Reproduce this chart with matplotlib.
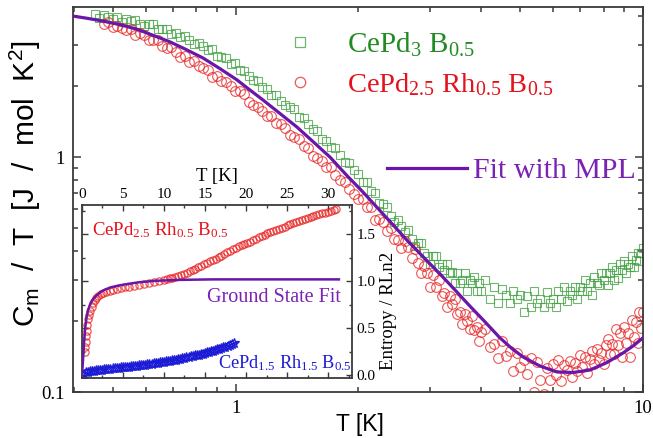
import numpy as np
import matplotlib
matplotlib.use("Agg")
import matplotlib.pyplot as plt
from matplotlib.ticker import NullFormatter, MultipleLocator, FormatStrFormatter

plt.rcParams['mathtext.default'] = 'regular'
SERIF = 'Liberation Serif'
SANS = 'Liberation Sans'

# colours
GREEN_TXT = '#228b22'
GREEN_MK = (0.25, 0.62, 0.25, 0.75)
RED_TXT = '#e3121c'
RED_MK = (0.90, 0.12, 0.12, 0.75)
PURPLE = '#6a16a8'
PURPLE_TXT = '#7a22b4'
BLUE = '#1c1cd6'
SPINE = '#3a3a3a'

# ---- C_m/T data, low temperature part (dense) ----
t_low = [0.450, 0.462, 0.474, 0.486, 0.498, 0.511, 0.524, 0.537, 0.551, 0.565,
         0.580, 0.595, 0.610, 0.626, 0.642, 0.659, 0.676, 0.694, 0.712, 0.730,
         0.749, 0.769, 0.789, 0.810, 0.831, 0.853, 0.875, 0.898, 0.921, 0.945,
         0.970, 0.995, 1.021, 1.048, 1.075, 1.103, 1.132, 1.162, 1.192, 1.223,
         1.255, 1.288, 1.322, 1.357, 1.392, 1.428, 1.466, 1.504, 1.543, 1.584,
         1.625, 1.668, 1.711, 1.756, 1.802, 1.849, 1.898, 1.947]

cm_pd3_low = [4.05, 3.91, 4.04, 3.93, 3.86, 3.95, 3.77, 3.86, 3.79, 3.83,
              3.68, 3.62, 3.70, 3.68, 3.51, 3.50, 3.52, 3.33, 3.38, 3.25,
              3.28, 3.155, 3.03, 3.05, 2.98, 2.85, 2.87, 2.69, 2.67, 2.63,
              2.50, 2.51, 2.35, 2.33, 2.22, 2.12, 2.11, 1.98, 1.95, 1.83,
              1.84, 1.74, 1.66, 1.64, 1.60, 1.475, 1.46, 1.385, 1.31, 1.295,
              1.19, 1.175, 1.10, 1.09, 1.024, 0.955, 0.94, 0.88]

# Rh-doped sample starts at the third temperature point
cm_rh_low = [3.68, 3.75, 3.56, 3.62, 3.54, 3.46, 3.51, 3.32,
             3.37, 3.31, 3.15, 3.15, 3.15, 2.98, 2.91, 2.93, 2.80, 2.67,
             2.68, 2.55, 2.56, 2.43, 2.39, 2.34, 2.20, 2.22, 2.10, 2.08,
             2.00, 1.91, 1.91, 1.85, 1.72, 1.66, 1.64, 1.568, 1.49, 1.495,
             1.40, 1.38, 1.33, 1.24, 1.216, 1.19, 1.115, 1.09, 1.015, 0.993,
             0.96, 0.91, 0.905, 0.84, 0.80, 0.785, 0.734, 0.695]

# ---- C_m/T data, high temperature part (noisy) ----
t_high = [2.00, 2.05, 2.10, 2.15, 2.20, 2.25, 2.30, 2.35, 2.40, 2.45,
          2.50, 2.55, 2.60, 2.65, 2.70, 2.75, 2.80, 2.85, 2.90, 2.95,
          3.00, 3.05, 3.10, 3.15, 3.20, 3.25, 3.30, 3.35, 3.40, 3.45,
          3.50, 3.55, 3.60, 3.65, 3.70, 3.75, 3.80, 3.85, 3.90, 3.95,
          4.00, 4.1, 4.2, 4.3, 4.4, 4.5, 4.6, 4.7, 4.8, 4.9,
          5.0, 5.1, 5.2, 5.3, 5.4, 5.5, 5.6, 5.7, 5.8, 5.9,
          6.0, 6.1, 6.2, 6.3, 6.4, 6.5, 6.6, 6.7, 6.8, 6.9,
          7.0, 7.1, 7.2, 7.3, 7.4, 7.5, 7.6, 7.7, 7.8, 7.9,
          8.0, 8.1, 8.2, 8.3, 8.4, 8.5, 8.6, 8.7, 8.8, 8.9,
          9.0, 9.1, 9.2, 9.3, 9.4, 9.5, 9.6, 9.7, 9.8, 9.9, 10.0]

cm_pd3_high = [0.85, 0.78, 0.78, 0.72, 0.70, 0.64, 0.63, 0.61, 0.56, 0.53,
               0.54, 0.51, 0.48, 0.49, 0.45, 0.42, 0.43, 0.43, 0.39, 0.38,
               0.35, 0.38, 0.38, 0.34, 0.35, 0.33, 0.35, 0.32, 0.325, 0.29,
               0.32, 0.29, 0.30, 0.32, 0.27, 0.30, 0.29, 0.31, 0.27, 0.29,
               0.27, 0.30, 0.25, 0.28, 0.24, 0.275, 0.26, 0.24, 0.27, 0.25,
               0.26, 0.22, 0.255, 0.23, 0.27, 0.24, 0.25, 0.23, 0.266, 0.24,
               0.25, 0.23, 0.27, 0.25, 0.28, 0.245, 0.27, 0.26, 0.28, 0.25,
               0.28, 0.27, 0.30, 0.27, 0.29, 0.26, 0.31, 0.29, 0.285, 0.32,
               0.30, 0.32, 0.285, 0.32, 0.34, 0.30, 0.33, 0.305, 0.35, 0.33,
               0.36, 0.32, 0.35, 0.34, 0.38, 0.34, 0.365, 0.39, 0.36, 0.39, 0.41]

cm_rh_high = [0.66, 0.665, 0.61, 0.61, 0.54, 0.545, 0.53, 0.485, 0.50, 0.45,
              0.445, 0.41, 0.44, 0.415, 0.37, 0.405, 0.355, 0.32, 0.345, 0.32,
              0.28, 0.315, 0.28, 0.30, 0.255, 0.265, 0.23, 0.255, 0.236, 0.25,
              0.215, 0.22, 0.195, 0.215, 0.20, 0.185, 0.21, 0.183, 0.19, 0.165,
              0.18, 0.185, 0.155, 0.16, 0.14, 0.165, 0.142, 0.150, 0.123, 0.147,
              0.128, 0.137, 0.119, 0.140, 0.100, 0.134, 0.112, 0.098, 0.126, 0.113,
              0.132, 0.118, 0.137, 0.111, 0.130, 0.124, 0.135, 0.116, 0.133, 0.123,
              0.144, 0.128, 0.141, 0.120, 0.138, 0.149, 0.131, 0.153, 0.137, 0.147,
              0.132, 0.159, 0.168, 0.145, 0.160, 0.145, 0.186, 0.158, 0.178, 0.141,
              0.189, 0.162, 0.178, 0.141, 0.202, 0.172, 0.199, 0.162, 0.218, 0.188, 0.219]

# ---- MPL fit ----
t_fit = [0.398, 0.433, 0.471, 0.519, 0.571, 0.625, 0.689, 0.754, 0.830, 0.913,
         1.006, 1.082, 1.165, 1.283, 1.412, 1.546, 1.702, 1.864, 2.051, 2.323,
         2.631, 2.880, 3.171, 3.452, 3.757, 4.090, 4.452, 4.766, 5.073, 5.584,
         6.148, 6.730, 7.408, 8.155, 8.932, 9.450, 10.0]
cm_fit = [3.98, 3.89, 3.79, 3.66, 3.50, 3.30, 3.09, 2.87, 2.64, 2.38,
          2.13, 1.93, 1.75, 1.532, 1.342, 1.164, 1.00, 0.842, 0.710, 0.561,
          0.443, 0.377, 0.318, 0.272, 0.232, 0.199, 0.170, 0.153, 0.141, 0.129,
          0.1217, 0.1211, 0.124, 0.1335, 0.1466, 0.157, 0.170]

# ---- entropy (inset) ----
t_s_rh05 = [0.40, 0.45, 0.50, 0.55, 0.60, 0.7, 0.8, 0.9, 1.0, 1.2,
            1.4, 1.6, 1.8, 2.0, 2.3, 2.6, 3.0, 3.4, 3.8, 4.3,
            4.8, 5.3, 5.8, 6.4, 7.0, 7.6, 8.2, 8.8, 9.4, 10.0,
            10.35, 10.7, 11.05, 11.4, 11.75, 12.1, 12.45, 12.8, 13.15, 13.5,
            13.85, 14.2, 14.55, 14.9, 15.25, 15.6, 15.95, 16.3, 16.65, 17.0,
            17.35, 17.7, 18.05, 18.4, 18.75, 19.1, 19.45, 19.8, 20.15, 20.5,
            20.85, 21.2, 21.55, 21.9, 22.25, 22.6, 22.95, 23.3, 23.65, 24.0,
            24.35, 24.7, 25.05, 25.4, 25.75, 26.1, 26.45, 26.8, 27.15, 27.5,
            27.85, 28.2, 28.55, 28.9, 29.25, 29.6, 29.95, 30.3, 30.65, 31.0]
s_rh05 = [0.25, 0.30, 0.36, 0.42, 0.47, 0.54, 0.60, 0.64, 0.68, 0.73,
          0.77, 0.80, 0.82, 0.84, 0.86, 0.875, 0.89, 0.90, 0.91, 0.92,
          0.93, 0.935, 0.94, 0.95, 0.96, 0.97, 0.98, 0.99, 1.00, 1.01,
          1.02, 1.03, 1.04, 1.05, 1.06, 1.07, 1.08, 1.09, 1.105, 1.12,
          1.135, 1.15, 1.165, 1.18, 1.195, 1.21, 1.225, 1.24, 1.255, 1.27,
          1.29, 1.31, 1.325, 1.34, 1.355, 1.37, 1.385, 1.40, 1.41, 1.42,
          1.435, 1.45, 1.465, 1.48, 1.495, 1.51, 1.52, 1.53, 1.545, 1.56,
          1.57, 1.58, 1.595, 1.61, 1.62, 1.63, 1.64, 1.65, 1.66, 1.67,
          1.68, 1.69, 1.70, 1.71, 1.72, 1.73, 1.74, 1.75, 1.76, 1.77]

t_s_rh15 = [0.15, 0.25, 0.5, 0.75, 1.0, 1.25, 1.5, 1.75, 2.0, 2.25,
            2.5, 2.75, 3.0, 3.25, 3.5, 3.75, 4.0, 4.25, 4.5, 4.75,
            5.0, 5.25, 5.5, 5.75, 6.0, 6.25, 6.5, 6.75, 7.0, 7.25,
            7.5, 7.75, 8.0, 8.25, 8.5, 8.75, 9.0, 9.25, 9.5, 9.75,
            10.0, 10.25, 10.5, 10.75, 11.0, 11.25, 11.5, 11.75, 12.0, 12.25,
            12.5, 12.75, 13.0, 13.25, 13.5, 13.75, 14.0, 14.25, 14.5, 14.75,
            15.0, 15.25, 15.5, 15.75, 16.0, 16.25, 16.5, 16.75, 17.0, 17.25,
            17.5, 17.75, 18.0, 18.25, 18.5]
s_rh15 = [0.01, 0.02, 0.032, 0.04, 0.045, 0.048, 0.051, 0.054, 0.057, 0.06,
          0.062, 0.065, 0.067, 0.07, 0.072, 0.075, 0.077, 0.08, 0.082, 0.085,
          0.087, 0.09, 0.092, 0.095, 0.097, 0.10, 0.102, 0.105, 0.107, 0.11,
          0.112, 0.115, 0.118, 0.121, 0.124, 0.127, 0.131, 0.134, 0.138, 0.141,
          0.145, 0.149, 0.153, 0.157, 0.161, 0.165, 0.169, 0.173, 0.178, 0.182,
          0.187, 0.192, 0.197, 0.202, 0.207, 0.212, 0.217, 0.222, 0.228, 0.233,
          0.239, 0.245, 0.251, 0.257, 0.264, 0.270, 0.277, 0.284, 0.291, 0.298,
          0.305, 0.313, 0.321, 0.329, 0.34]

t_s_fit = [0.0, 0.1, 0.2, 0.3, 0.45, 0.6, 0.8, 1.0, 1.3, 1.7,
           2.2, 2.8, 3.5, 4.5, 5.5, 7.0, 9.0, 12.0, 16.0, 20.0, 25.0, 31.3]
s_fit = [0.0, 0.08, 0.22, 0.36, 0.52, 0.62, 0.70, 0.75, 0.80, 0.84,
         0.88, 0.91, 0.935, 0.955, 0.97, 0.99, 1.005, 1.015, 1.02, 1.02, 1.02, 1.02]


fig = plt.figure(figsize=(6.53, 4.38), dpi=100)
ax = fig.add_axes([0.1118, 0.1050, 0.8729, 0.8790])

ax.plot(t_low, cm_pd3_low, ls='none', marker='s', ms=6.2, mfc='none', mec=GREEN_MK, mew=0.8)
ax.plot(t_high, cm_pd3_high, ls='none', marker='s', ms=6.2, mfc='none', mec=GREEN_MK, mew=0.8)
ax.plot(t_low[2:], cm_rh_low, ls='none', marker='o', ms=7, mfc='none', mec=RED_MK, mew=0.8)
ax.plot(t_high, cm_rh_high, ls='none', marker='o', ms=7, mfc='none', mec=RED_MK, mew=0.8)
ax.plot(t_fit, cm_fit, color=PURPLE, lw=2.3, zorder=5)

ax.set_xscale('log')
ax.set_yscale('log')
ax.set_xlim(0.398, 10)
ax.set_ylim(0.1, 4.35)

ax.set_xticks([1, 10], labels=['1', '10'])
ax.set_xticks([0.4, 0.5, 0.6, 0.7, 0.8, 0.9, 2, 3, 4, 5, 6, 7, 8, 9], minor=True)
ax.set_yticks([0.1, 1], labels=['0.1', '1'])
ax.set_yticks([0.2, 0.3, 0.4, 0.5, 0.6, 0.7, 0.8, 0.9, 2, 3, 4], minor=True)
ax.xaxis.set_minor_formatter(NullFormatter())
ax.yaxis.set_minor_formatter(NullFormatter())
ax.tick_params(which='both', direction='in', top=True, right=True, color=SPINE, width=1.1)
ax.tick_params(which='major', length=6, labelsize=13.5, pad=6)
ax.tick_params(which='minor', length=3.5)
for lab in ax.get_xticklabels() + ax.get_yticklabels():
    lab.set_family(SERIF)
for sp in ax.spines.values():
    sp.set_color(SPINE)
    sp.set_linewidth(1.3)

ax.set_xlabel('T [K]', family=SANS, fontsize=16.5)
ax.xaxis.set_label_coords(0.5035, -0.055)
ax.set_ylabel('C$_m$  /  T  [J  /  mol  K$^2$]', family=SANS, fontsize=21.5)
ax.yaxis.set_label_coords(-0.053, 0.54)

# legend keys
ax.plot([0.398], [0.909], transform=ax.transAxes, marker='s', ms=6.5, mfc='none',
        mec=GREEN_MK, mew=0.9, ls='none')
ax.plot([0.398], [0.805], transform=ax.transAxes, marker='o', ms=7.5, mfc='none',
        mec=RED_MK, mew=0.9, ls='none')
ax.plot([0.551, 0.691], [0.582, 0.582], transform=ax.transAxes, color=PURPLE, lw=2.3)
ax.text(0.481, 0.881, 'CePd$_{3}$ B$_{0.5}$', transform=ax.transAxes, family=SERIF,
        fontsize=21, color=GREEN_TXT, va='baseline')
ax.text(0.481, 0.779, 'CePd$_{2.5}$ Rh$_{0.5}$ B$_{0.5}$', transform=ax.transAxes,
        family=SERIF, fontsize=20.5, color=RED_TXT, va='baseline')
ax.text(0.702, 0.556, 'Fit with MPL', transform=ax.transAxes, family=SERIF,
        fontsize=21.5, color=PURPLE_TXT, va='baseline')

# ---- inset: entropy ----
axin = fig.add_axes([0.1251, 0.1370, 0.4140, 0.3950])
axin.set_facecolor('white')
axin.plot(t_s_rh15, s_rh15, ls='none', marker='*', ms=7, mfc='none', mec=BLUE, mew=0.9)
axin.plot(t_s_rh05, s_rh05, ls='none', marker='o', ms=5.2, mfc='none', mec=RED_MK, mew=0.9)
axin.plot(t_s_fit, s_fit, color=PURPLE, lw=1.8, zorder=5)
axin.set_xlim(0, 32.9)
axin.set_ylim(-0.027, 1.81)

axin.xaxis.set_major_locator(MultipleLocator(5))
axin.xaxis.set_minor_locator(MultipleLocator(2.5))
axin.yaxis.set_major_locator(MultipleLocator(0.5))
axin.yaxis.set_minor_locator(MultipleLocator(0.25))
axin.xaxis.set_major_formatter(FormatStrFormatter('%d'))
axin.yaxis.set_major_formatter(FormatStrFormatter('%.1f'))
axin.tick_params(which='both', direction='in', top=True, bottom=True, left=True, right=True,
                 labeltop=True, labelbottom=False, labelright=True, labelleft=False,
                 color=SPINE, width=1.0)
axin.tick_params(which='major', length=4, labelsize=11, pad=3)
axin.tick_params(which='minor', length=2.5)
for lab in axin.get_xticklabels() + axin.get_yticklabels():
    lab.set_family(SERIF)
for sp in axin.spines.values():
    sp.set_color(SPINE)
    sp.set_linewidth(1.3)

axin.xaxis.set_label_position('top')
axin.set_xlabel('T [K]', family=SERIF, fontsize=13.5, labelpad=5)
axin.yaxis.set_label_position('right')
axin.set_ylabel('Entropy / RLn2', family=SERIF, fontsize=13.5)
axin.yaxis.set_label_coords(1.104, 0.39)

axin.text(1.25, 1.49, 'CePd$_{2.5}$ Rh$_{0.5}$ B$_{0.5}$', family=SERIF, fontsize=13.5,
          color=RED_TXT, va='baseline')
axin.text(15.3, 0.785, 'Ground State Fit', family=SERIF, fontsize=14.5,
          color=PURPLE_TXT, va='baseline')
axin.text(16.6, 0.08, 'CePd$_{1.5}$ Rh$_{1.5}$ B$_{0.5}$', family=SERIF, fontsize=13.2,
          color=BLUE, va='baseline')

fig.savefig('out.png', dpi=100)
